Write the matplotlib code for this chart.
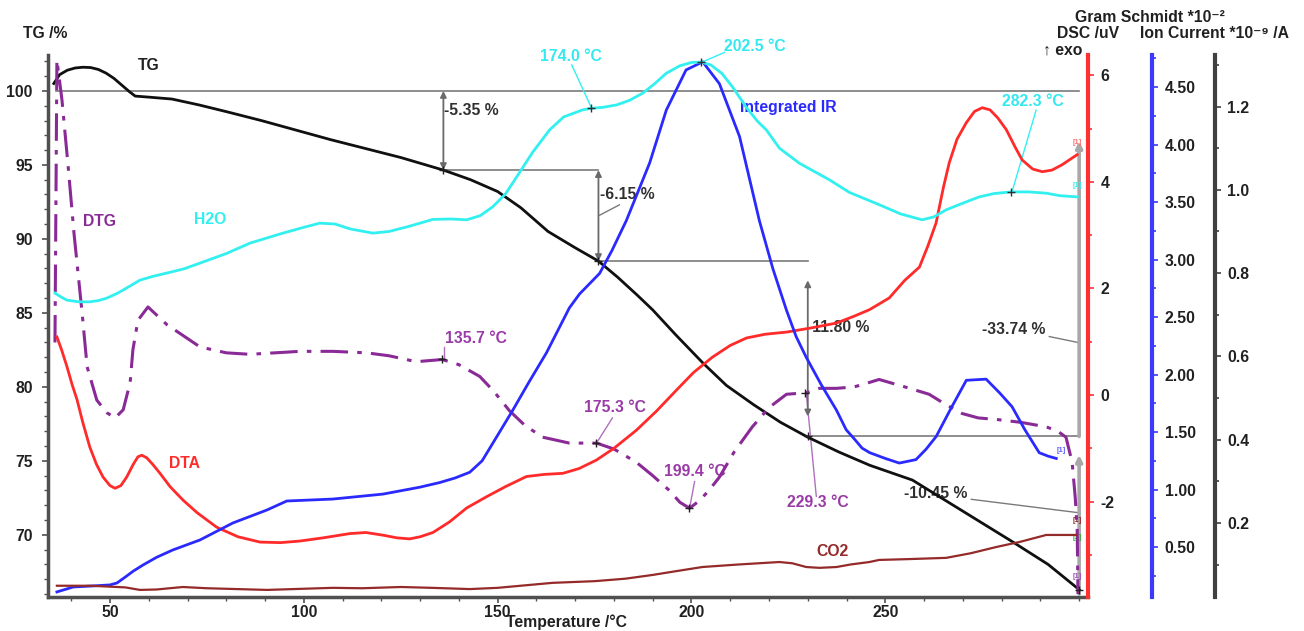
import matplotlib
matplotlib.use("Agg")
import matplotlib.pyplot as plt

plt.rcParams['font.family'] = ['Liberation Sans', 'DejaVu Sans']
plt.rcParams['font.weight'] = 'bold'
plt.rcParams['axes.unicode_minus'] = False

FS = 11.3

# ---------------- data ----------------
tg_T = [35.5, 37, 39, 41, 43, 45, 47, 49, 51, 53, 55, 56.5, 60, 66, 73, 80, 89, 98, 107, 116, 125, 136,
        143, 150, 156, 163, 170, 176, 181, 186, 190, 196, 203, 209, 216, 223, 230, 238, 246, 257, 270,
        283, 292, 300]
tg_v = [100.5, 101.1, 101.4, 101.55, 101.6, 101.58, 101.45, 101.2, 100.85, 100.4, 99.95, 99.65, 99.58,
        99.45, 99.05, 98.6, 98.0, 97.35, 96.7, 96.1, 95.5, 94.65, 94.0, 93.2, 92.1, 90.5, 89.4, 88.5,
        87.4, 86.2, 85.2, 83.5, 81.6, 80.1, 78.8, 77.6, 76.6, 75.6, 74.7, 73.7, 71.6, 69.5, 68.0, 66.3]

# DTG drawn in the TG axis frame (no own scale shown)
dtg_T = [35.8, 36.3, 37.6, 39.2, 40.7, 42.8, 44.1, 46.6, 49.2, 51.3, 53.4, 55.2, 55.9, 57.2, 59.8,
         64.7, 73.2, 80, 86.1, 99, 107.5, 116.2, 122, 129, 135.7, 140, 145.4, 149, 153, 157, 161.6,
         168.5, 175.5, 180, 185.8, 190, 194.3, 197, 199.5, 202, 204.5, 207.2, 211, 215.7, 220, 224.5,
         229.6, 233, 237.4, 242, 245.9, 248.4, 255, 261.3, 265, 269.8, 274, 278.6, 285, 291.5, 294.5,
         296.6, 298.2, 299.0, 299.5, 299.7]
dtg_v = [83.0, 102.1, 99.4, 94.9, 90.4, 85.0, 81.35, 79.1, 78.25, 77.9, 78.45, 80.3, 82.5, 84.5, 85.4,
         84.2, 82.7, 82.3, 82.2, 82.4, 82.4, 82.3, 82.1, 81.7, 81.85, 81.5, 80.7, 79.7, 78.4, 77.4, 76.6,
         76.2, 76.2, 75.8, 74.9, 74.0, 73.0, 72.2, 71.8, 72.3, 73.0, 73.9, 75.6, 77.3, 78.6, 79.5, 79.6,
         79.9, 79.9, 80.0, 80.3, 80.5, 80.0, 79.5, 78.9, 78.2, 77.9, 77.8, 77.6, 77.3, 77.0, 76.6, 74.9,
         72.5, 70.3, 66.0]

dta_T = [36.3, 37.5, 38.9, 40.2, 41.5, 43, 44.8, 46.5, 48.2, 50, 51.3, 52.8, 54.3, 56, 57.2, 58.2, 59.5,
         61, 62.9, 65.5, 68.8, 72.5, 77.5, 83, 88.7, 94, 99, 105, 111.9, 116, 120.4, 124, 127.3, 130,
         133.3, 137.6, 142, 147.1, 152, 157.4, 162, 166.8, 171, 175.5, 180, 185.8, 191, 196.1, 200.5,
         205.4, 210, 214.2, 219, 224.5, 231, 237.4, 242, 245.9, 251, 255, 258.8, 261, 263.1, 265, 266.5,
         268.5, 270.9, 273, 275, 277, 279, 281.2, 283.5, 285.3, 288, 290.5, 293, 295.6, 299.5]
dta_v = [1.09, 0.85, 0.53, 0.2, -0.09, -0.52, -0.98, -1.30, -1.54, -1.70, -1.75, -1.70, -1.54, -1.30,
         -1.16, -1.13, -1.18, -1.30, -1.47, -1.72, -1.97, -2.21, -2.48, -2.66, -2.76, -2.77, -2.74,
         -2.68, -2.6, -2.58, -2.63, -2.68, -2.70, -2.66, -2.58, -2.38, -2.12, -1.91, -1.72, -1.53, -1.49,
         -1.47, -1.38, -1.22, -1.0, -0.66, -0.3, 0.09, 0.42, 0.71, 0.93, 1.07, 1.14, 1.18, 1.26, 1.35,
         1.48, 1.6, 1.82, 2.15, 2.4, 2.8, 3.23, 3.9, 4.36, 4.8, 5.11, 5.32, 5.39, 5.35, 5.2, 4.98, 4.65,
         4.41, 4.24, 4.19, 4.22, 4.32, 4.51]

ir_T = [36.3, 40.5, 45, 50, 51.8, 54, 56, 58.5, 62, 66.2, 73.2, 81.7, 90.5, 95.6, 107.5, 120.4, 129.9,
        135, 139, 142.8, 146, 148.7, 153.9, 158, 162.6, 168.5, 171.1, 176.3, 179.5, 183.2, 189.2, 193.5,
        198.6, 202.9, 207.2, 212.4, 217.5, 221, 224.5, 227, 229.6, 233.5, 237.4, 239.9, 242, 244, 246,
        250, 253.6, 257.9, 260.5, 263.1, 267, 270.9, 276, 279.5, 282.7, 286, 289.7, 292, 294.1]
ir_v = [0.109, 0.152, 0.16, 0.17, 0.187, 0.24, 0.29, 0.343, 0.41, 0.474, 0.561, 0.709, 0.822, 0.9,
        0.917, 0.96, 1.02, 1.06, 1.10, 1.15, 1.25, 1.40, 1.69, 1.93, 2.19, 2.58, 2.70, 2.88, 3.08, 3.34,
        3.84, 4.30, 4.65, 4.72, 4.53, 4.07, 3.34, 2.92, 2.56, 2.33, 2.15, 1.91, 1.69, 1.52, 1.44, 1.36,
        1.32, 1.27, 1.23, 1.26, 1.35, 1.46, 1.71, 1.95, 1.96, 1.84, 1.72, 1.52, 1.32, 1.29, 1.27]

h2o_T = [35.8, 37.5, 38.9, 42, 44.8, 47, 49.2, 52, 55, 57.7, 61, 64.6, 69, 73.2, 80, 86.1, 94.6, 100,
         104.1, 108, 112, 117.8, 122, 127, 133.3, 138, 142, 145.5, 148.7, 152, 154.9, 159, 163.4, 167,
         171.9, 174.2, 177, 180.7, 184, 187.4, 190.5, 193.5, 197, 200, 202.5, 205, 207.8, 210.6, 214,
         217, 219.3, 222.7, 227.8, 235.6, 240.7, 248.5, 254, 259.5, 262.5, 265.7, 270, 274.2, 278,
         282.3, 287, 291.5, 295, 299.5]
h2o_v = [0.752, 0.742, 0.735, 0.731, 0.731, 0.734, 0.740, 0.752, 0.768, 0.783, 0.792, 0.80, 0.81, 0.824,
         0.847, 0.872, 0.896, 0.910, 0.920, 0.918, 0.906, 0.896, 0.900, 0.912, 0.929, 0.930, 0.928,
         0.938, 0.959, 0.99, 1.031, 1.09, 1.144, 1.175, 1.192, 1.196, 1.198, 1.204, 1.215, 1.232,
         1.255, 1.28, 1.298, 1.306, 1.307, 1.300, 1.28, 1.247, 1.20, 1.165, 1.144, 1.10, 1.064, 1.024,
         0.994, 0.964, 0.942, 0.928, 0.935, 0.952, 0.968, 0.983, 0.991, 0.995, 0.995, 0.992, 0.986,
         0.983]

co2_T = [36.3, 45, 51.8, 54, 57.7, 62, 68.8, 75, 90.5, 107.5, 115, 125, 133, 142.8, 150, 164.2, 175,
         183, 190, 196, 202.8, 212, 222.7, 226, 229.6, 233, 237.4, 241, 245.9, 248.4, 256, 265.7, 272,
         278.6, 285, 291.5, 299.2]
co2_v = [0.049, 0.049, 0.046, 0.045, 0.039, 0.040, 0.046, 0.043, 0.039, 0.044, 0.043, 0.046, 0.044,
         0.041, 0.044, 0.056, 0.060, 0.066, 0.075, 0.084, 0.094, 0.100, 0.106, 0.103, 0.094, 0.092,
         0.094, 0.100, 0.106, 0.111, 0.113, 0.116, 0.127, 0.142, 0.155, 0.171, 0.171]

# mass-loss steps: (temperature, level) and labels
step_T = [136, 176, 230, 300]
step_level = [94.65, 88.5, 76.65, 66.3]
step_labels = ["-5.35 %", "-6.15 %", "-11.80 %", "-10.45 %"]
total_label = "-33.74 %"

dtg_peak_T = [135.7, 175.3, 199.4, 229.3]
dtg_peak_v = [81.85, 76.2, 71.8, 79.6]
h2o_peak_T = [174.0, 202.5, 282.3]
h2o_peak_v = [1.196, 1.307, 0.995]

# ---------------- colours ----------------
C_TG = '#101010'
C_DTG = '#8a2a96'
C_DTA = '#ff2a2a'
C_IR = '#2a2aff'
C_H2O = '#33f0f0'
C_CO2 = '#952a2a'
C_GREY = '#7a7a7a'

fig = plt.figure(figsize=(13.04, 6.31), dpi=100)
ax = fig.add_axes([0.0368, 0.0539, 0.7976, 0.859])
ax.set_xlim(34, 302.3)
ax.set_ylim(65.8, 102.43)

ax_dsc = ax.twinx()
ax_gs = ax.twinx()
ax_ic = ax.twinx()
ax_dsc.set_ylim(-3.79, 6.38)
ax_gs.set_ylim(0.065, 4.78)
ax_ic.set_ylim(0.022, 1.324)

for a in (ax, ax_dsc, ax_gs, ax_ic):
    a.spines['top'].set_visible(False)
for a in (ax_dsc, ax_gs, ax_ic):
    a.spines['left'].set_visible(False)
    a.spines['bottom'].set_visible(False)
ax.spines['right'].set_visible(False)
for s in ('left', 'bottom'):
    ax.spines[s].set_color('#505050')
    ax.spines[s].set_linewidth(2.5)

for a, pos, col in ((ax_dsc, 1.0, '#ff3030'), (ax_gs, 1.0615, '#3a3aff'), (ax_ic, 1.122, '#404040')):
    a.spines['right'].set_position(('axes', pos))
    a.spines['right'].set_color(col)
    a.spines['right'].set_linewidth(3)
    a.tick_params(axis='y', colors=col, labelcolor='#202020', labelsize=FS, length=4, width=1.2, pad=5)
    a.tick_params(axis='y', which='minor', length=3, width=1.2, colors=col)

# ticks
ax.set_xticks([50, 100, 150, 200, 250])
ax.set_xticks(list(range(40, 301, 10)), minor=True)
ax.set_yticks([70, 75, 80, 85, 90, 95, 100])
ax.set_yticks(list(range(66, 103)), minor=True)
ax.tick_params(axis='both', which='major', labelsize=FS, length=4, width=1.2, colors='#505050',
               labelcolor='#202020')
ax.tick_params(axis='both', which='minor', length=3, width=1.0, colors='#505050')
ax.tick_params(axis='y', pad=7)
ax.tick_params(axis='x', pad=2)

ax_dsc.set_yticks([-2, 0, 2, 4, 6])
ax_dsc.set_yticks([-3, -1, 1, 3, 5], minor=True)
ax_gs.set_yticks([0.5, 1.0, 1.5, 2.0, 2.5, 3.0, 3.5, 4.0, 4.5])
ax_gs.set_yticks([0.25, 0.75, 1.25, 1.75, 2.25, 2.75, 3.25, 3.75, 4.25, 4.75], minor=True)
ax_gs.set_yticklabels(['%.2f' % v for v in [0.5, 1.0, 1.5, 2.0, 2.5, 3.0, 3.5, 4.0, 4.5]])
ax_ic.set_yticks([0.2, 0.4, 0.6, 0.8, 1.0, 1.2])
ax_ic.set_yticks([0.1, 0.3, 0.5, 0.7, 0.9, 1.1, 1.3], minor=True)
ax_ic.set_yticklabels(['%.1f' % v for v in [0.2, 0.4, 0.6, 0.8, 1.0, 1.2]])

# ---------------- annotation lines (TG frame) ----------------
ax.plot([36, 300], [100, 100], color=C_GREY, lw=1.2, zorder=1)
ax.plot([step_T[0], step_T[1]], [step_level[0], step_level[0]], color=C_GREY, lw=1.2, zorder=1)
ax.plot([step_T[1], step_T[2]], [step_level[1], step_level[1]], color=C_GREY, lw=1.2, zorder=1)
ax.plot([step_T[2], step_T[3]], [step_level[2], step_level[2]], color=C_GREY, lw=1.2, zorder=1)

arrow_kw = dict(arrowstyle='<|-|>', color='#6a6a6a', lw=1.3, mutation_scale=9, shrinkA=0, shrinkB=0)
ax.annotate('', xy=(step_T[0], step_level[0]), xytext=(step_T[0], 100), arrowprops=arrow_kw)
ax.annotate('', xy=(step_T[1], step_level[1]), xytext=(step_T[1], step_level[0]), arrowprops=arrow_kw)
ax.annotate('', xy=(step_T[2], 78.0), xytext=(step_T[2], 87.2), arrowprops=arrow_kw)
big_kw = dict(arrowstyle='-|>', color='#a8a8a8', lw=2.6, mutation_scale=9, shrinkA=0, shrinkB=0)
ax.annotate('', xy=(step_T[3], 96.6), xytext=(step_T[3], step_level[2]), arrowprops=big_kw)
ax.annotate('', xy=(step_T[3], 75.4), xytext=(step_T[3], 66.0), arrowprops=big_kw)

lab_kw = dict(fontsize=FS, color='#303030', va='center', ha='left')
ax.text(136.1, 98.7, step_labels[0], **lab_kw)
ax.text(176.3, 93.0, step_labels[1], **lab_kw)
ax.plot([176.3, 181.4], [91.6, 92.3], color=C_GREY, lw=1)
ax.text(229.9, 84.0, step_labels[2], **lab_kw)
ax.text(254.9, 72.8, step_labels[3], **lab_kw)
ax.plot([272.2, 299.7], [72.4, 71.5], color=C_GREY, lw=1)
ax.text(275.0, 83.9, total_label, **lab_kw)
ax.plot([292.3, 299.7], [83.4, 83.0], color=C_GREY, lw=1)

# ---------------- curves ----------------
ax.plot(tg_T, tg_v, color=C_TG, lw=2, zorder=5)
ax.plot(dtg_T, dtg_v, color=C_DTG, lw=2.2, dashes=(9, 3, 1.5, 3), zorder=5)
ax.plot(step_T, step_level, ls='none', marker='+', ms=6, mew=1, color='#202020', zorder=6)
ax.plot(dtg_peak_T, dtg_peak_v, ls='none', marker='+', ms=6, mew=1, color='#202020', zorder=6)

ax_dsc.plot(dta_T, dta_v, color=C_DTA, lw=2)
ax_gs.plot(ir_T, ir_v, color=C_IR, lw=2)
ax_ic.plot(h2o_T, h2o_v, color=C_H2O, lw=2)
ax_ic.plot(co2_T, co2_v, color=C_CO2, lw=1.6)
ax_ic.plot(h2o_peak_T, h2o_peak_v, ls='none', marker='+', ms=6, mew=1, color='#303030')

# ---------------- peak labels ----------------
pk_kw = dict(fontsize=FS, color='#9a3aa6', va='center', ha='left')
ax.text(136.3, 83.3, "135.7 °C", **pk_kw)
ax.plot([136.1, 136.1], [82.7, 81.9], color='#b070c0', lw=1)
ax.text(172.4, 78.6, "175.3 °C", **pk_kw)
ax.plot([179.6, 175.5], [77.9, 76.2], color='#b070c0', lw=1)
ax.text(193.0, 74.3, "199.4 °C", **pk_kw)
ax.plot([200.8, 199.5], [73.6, 71.8], color='#b070c0', lw=1)
ax.text(224.7, 72.2, "229.3 °C", **pk_kw)
ax.plot([232.2, 229.6], [72.6, 79.6], color='#b070c0', lw=1)

cy_kw = dict(fontsize=FS, color='#33e8f0', va='center', ha='left')
ax.text(160.8, 102.3, "174.0 °C", **cy_kw)
ax.plot([169.1, 174.2], [101.76, 98.85], color=C_H2O, lw=1)
ax.text(208.5, 103.0, "202.5 °C", **cy_kw)
ax.plot([208.5, 202.8], [102.6, 101.96], color=C_H2O, lw=1, clip_on=False)
ax.text(280.2, 99.26, "282.3 °C", **cy_kw)
ax.plot([288.9, 282.7], [98.7, 93.2], color=C_H2O, lw=1)

# ---------------- curve names ----------------
nm = dict(fontsize=FS, va='center', ha='center')
ax.text(60.0, 101.7, "TG", color='#202020', **nm)
ax.text(47.4, 91.15, "DTG", color=C_DTG, **nm)
ax.text(75.8, 91.3, "H2O", color=C_H2O, **nm)
ax.text(69.3, 74.8, "DTA", color=C_DTA, **nm)
ax.text(225.0, 98.9, "Integrated IR", color=C_IR, **nm)
ax.text(236.3, 68.9, "CO2", color=C_CO2, **nm)

# small end markers
mk = dict(fontsize=5.5, ha='center', va='center')
ax.text(299.6, 96.5, "[1]", color='#ff7070', **mk)
ax.text(299.6, 93.6, "[1]", color=C_H2O, **mk)
ax.text(295.5, 75.7, "[1]", color='#6060ff', **mk)
ax.text(299.6, 71.0, "[1]", color=C_CO2, **mk)
ax.text(299.6, 69.8, "[1]", color='#30b030', **mk)
ax.text(299.6, 67.2, "[1]", color='#a050c0', **mk)

# ---------------- axis titles ----------------
fig.text(23 / 1304, 1 - 33 / 631, "TG /%", fontsize=FS, color='#202020', ha='left', va='center')
fig.text(1150 / 1304, 1 - 18 / 631, "Gram Schmidt *10⁻²", fontsize=FS, color='#202020',
         ha='center', va='center')
fig.text(1088 / 1304, 1 - 33 / 631, "DSC /uV", fontsize=FS, color='#202020', ha='center', va='center')
fig.text(1215 / 1304, 1 - 33 / 631, "Ion Current *10⁻⁹ /A", fontsize=FS, color='#202020',
         ha='center', va='center')
fig.text(1063 / 1304, 1 - 50 / 631, "↑ exo", fontsize=FS, color='#202020', ha='center', va='center')
fig.text(567 / 1304, 1 - 622 / 631, "Temperature /°C", fontsize=FS, color='#202020',
         ha='center', va='center')

fig.savefig("out.png", dpi=100)
